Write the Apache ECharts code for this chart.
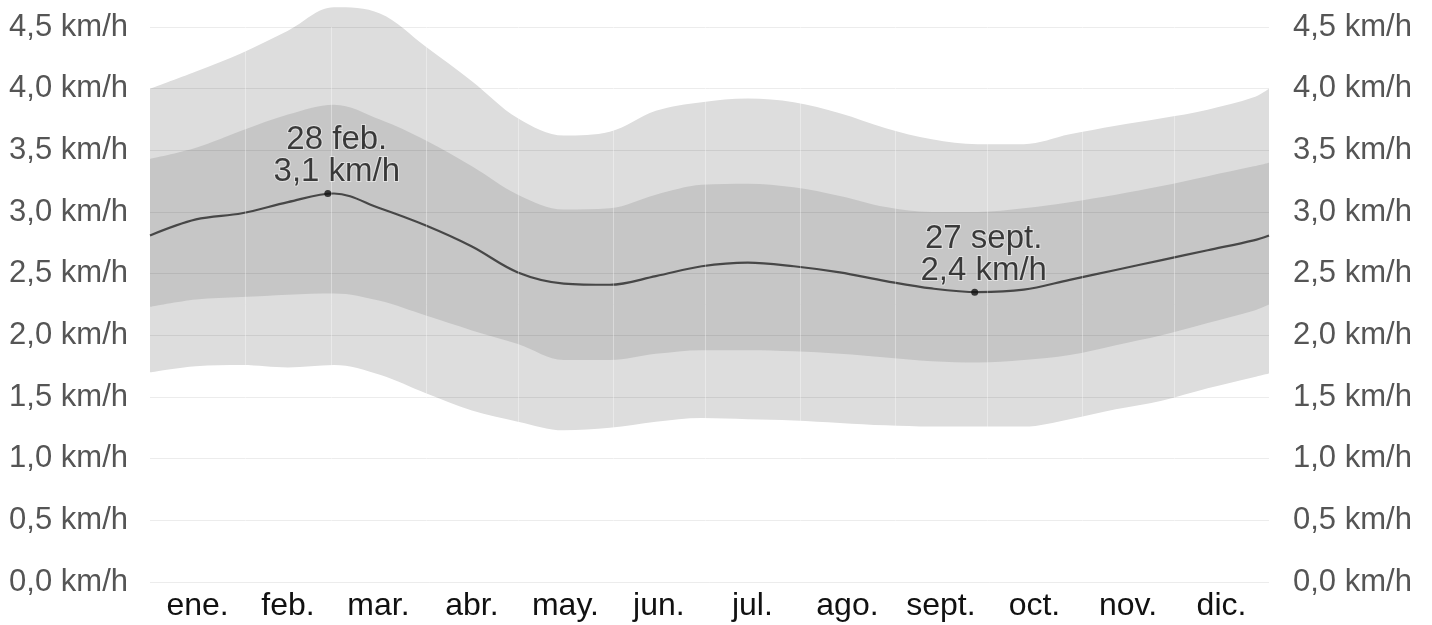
<!DOCTYPE html>
<html>
<head>
<meta charset="utf-8">
<script src="https://cdn.jsdelivr.net/npm/echarts@6/dist/echarts.min.js"></script>
<style>
  html, body { margin: 0; padding: 0; background: #fff; }
  #chart { width: 1432px; height: 625px; }
</style>
</head>
<body>
<div id="chart"></div>
<script>
// día del año y percentiles de velocidad del viento (km/h)
const days = [0, 15, 30, 45, 60, 75, 90, 105, 120, 135, 150, 165, 180, 195, 210, 225, 240, 255, 270, 285, 300, 315, 330, 345, 360, 365];
const p10 = [1.70, 1.75, 1.76, 1.74, 1.76, 1.68, 1.53, 1.39, 1.30, 1.23, 1.25, 1.30, 1.33, 1.32, 1.31, 1.29, 1.27, 1.26, 1.26, 1.26, 1.32, 1.40, 1.47, 1.57, 1.66, 1.69];
const p25 = [2.23, 2.29, 2.31, 2.33, 2.34, 2.28, 2.16, 2.04, 1.93, 1.80, 1.80, 1.85, 1.88, 1.88, 1.87, 1.85, 1.82, 1.79, 1.78, 1.80, 1.84, 1.92, 2.00, 2.10, 2.20, 2.25];
const median = [2.81, 2.94, 2.99, 3.08, 3.15, 3.03, 2.89, 2.72, 2.51, 2.42, 2.41, 2.48, 2.56, 2.59, 2.56, 2.51, 2.44, 2.38, 2.35, 2.37, 2.45, 2.53, 2.61, 2.69, 2.77, 2.81];
const p75 = [3.43, 3.52, 3.66, 3.79, 3.87, 3.75, 3.58, 3.37, 3.14, 3.02, 3.03, 3.14, 3.22, 3.23, 3.20, 3.13, 3.04, 3.00, 3.00, 3.03, 3.08, 3.14, 3.21, 3.29, 3.37, 3.40];
const p90 = [4.00, 4.14, 4.29, 4.47, 4.66, 4.61, 4.34, 4.06, 3.76, 3.62, 3.65, 3.82, 3.89, 3.92, 3.89, 3.80, 3.68, 3.59, 3.55, 3.55, 3.63, 3.70, 3.76, 3.83, 3.93, 4.00];

const months = ['ene.', 'feb.', 'mar.', 'abr.', 'may.', 'jun.', 'jul.', 'ago.', 'sept.', 'oct.', 'nov.', 'dic.'];
const monthStarts = [0, 31, 59, 90, 120, 151, 181, 212, 243, 273, 304, 334, 365];

// máximo y mínimo anotados
const markDays = [58, 269];
const markValues = [3.15, 2.35];
const markLabels = ['28 feb.\n3,1 km/h', '27 sept.\n2,4 km/h'];

const FONT = 'Liberation Sans, Arial, Helvetica, sans-serif';
const OUTER = '#dddddd';
const INNER = '#c6c6c6';

const monthCenters = months.map((m, i) => (monthStarts[i] + monthStarts[i + 1]) / 2);
const pairs = (vals) => days.map((d, i) => [d, vals[i]]);
const kmh = (v) => v.toFixed(1).replace('.', ',') + ' km/h';

// bandas: áreas superpuestas desde el eje (p90, p75, p25 y p10 en blanco)
const band = (name, vals, color, extra) => Object.assign({
  name,
  type: 'line',
  data: pairs(vals),
  smooth: 0.35,
  symbol: 'none',
  clip: false,
  silent: true,
  z: 2,
  lineStyle: { width: 0 },
  areaStyle: { color, opacity: 1, origin: 'start' },
}, extra || {});

const chart = echarts.init(document.getElementById('chart'));
chart.setOption({
  animation: false,
  grid: { left: 150, right: 163, top: 27, bottom: 43 },
  xAxis: {
    type: 'value',
    min: 0,
    max: 365,
    axisLine: { show: false },
    axisTick: { show: false },
    splitLine: { show: false },
    axisLabel: {
      customValues: monthCenters,
      formatter: (v) => months[monthCenters.indexOf(v)],
      color: '#111',
      fontSize: 32,
      fontFamily: FONT,
      margin: 8,
    },
  },
  yAxis: [
    {
      type: 'value',
      position: 'left',
      min: 0,
      max: 4.5,
      interval: 0.5,
      z: 3,
      axisLine: { show: false },
      axisTick: { show: false },
      splitLine: { lineStyle: { color: 'rgba(0,0,0,0.075)', width: 1 } },
      axisLabel: { formatter: kmh, color: '#555', fontSize: 31, fontFamily: FONT, margin: 22 },
    },
    {
      type: 'value',
      position: 'right',
      min: 0,
      max: 4.5,
      interval: 0.5,
      axisLine: { show: false },
      axisTick: { show: false },
      splitLine: { show: false },
      axisLabel: { formatter: kmh, color: '#555', fontSize: 31, fontFamily: FONT, margin: 24 },
    },
  ],
  series: [
    band('p90', p90, OUTER),
    band('p75', p75, INNER, {
      markLine: {
        silent: true,
        symbol: 'none',
        label: { show: false },
        lineStyle: { color: 'rgba(255,255,255,0.35)', width: 1, type: 'solid' },
        data: monthStarts.slice(1, -1).map((d) => ({ xAxis: d })),
      },
    }),
    band('p25', p25, OUTER),
    band('p10', p10, '#ffffff'),
    {
      name: 'mediana',
      type: 'line',
      data: pairs(median),
      smooth: 0.35,
      symbol: 'none',
      z: 4,
      lineStyle: { color: '#474747', width: 2.2 },
    },
    {
      name: 'anotaciones',
      type: 'scatter',
      data: markDays.map((d, i) => [d, markValues[i]]),
      symbol: 'circle',
      symbolSize: 7,
      z: 5,
      itemStyle: { color: '#111' },
      label: {
        show: true,
        position: 'top',
        distance: 2,
        offset: [9, 0],
        formatter: (p) => markLabels[p.dataIndex],
        color: '#111',
        fontSize: 33,
        lineHeight: 32,
        fontFamily: FONT,
        textBorderColor: 'rgba(255,255,255,0.6)',
        textBorderWidth: 2,
      },
    },
  ],
});
</script>
</body>
</html>
